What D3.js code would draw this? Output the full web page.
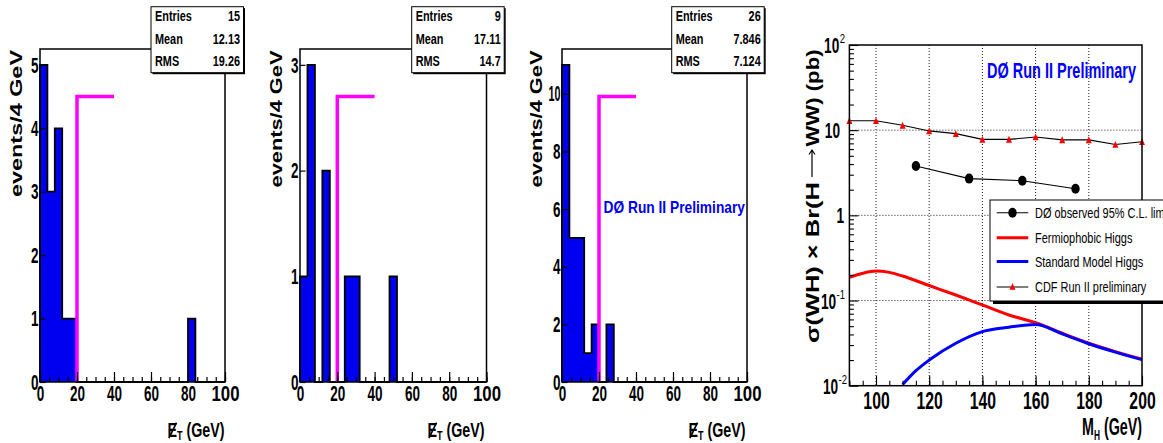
<!DOCTYPE html>
<html>
<head>
<meta charset="utf-8">
<script src="https://cdn.jsdelivr.net/npm/d3@7"></script>
<style>
  body { margin: 0; background: #fff; }
  svg { display: block; }
</style>
</head>
<body>
<svg id="chart" width="1163" height="443"></svg>
<script>
// ---- Missing-ET histograms: 25 bins of 4 GeV between 0 and 100 GeV ----
const binEdges = d3.range(0, 101, 4);
const countsA = [5, 3, 4, 1, 1, 0, 0, 0, 0, 0, 0, 0, 0, 0, 0, 0, 0, 0, 0, 0, 1, 0, 0, 0, 0];
const countsB = [1, 3, 0, 2, 0, 0, 1, 1, 0, 0, 0, 0, 1, 0, 0, 0, 0, 0, 0, 0, 0, 0, 0, 0, 0];
const countsC = [11, 5, 5, 1, 2, 0, 2, 0, 0, 0, 0, 0, 0, 0, 0, 0, 0, 0, 0, 0, 0, 0, 0, 0, 0];
const statNames = ["Entries", "Mean", "RMS"];
const statsA = ["15", "12.13", "19.26"];
const statsB = ["9", "17.11", "14.7"];
const statsC = ["26", "7.846", "7.124"];
const cutLevels = [4.5, 2.7, 9.9];   // height of the cut marker in each histogram
const cutRange = [20, 40];           // GeV
const histTicks = [0, 20, 40, 60, 80, 100];

// ---- Cross-section limit panel ----
const cdfMass = [90, 100, 110, 120, 130, 140, 150, 160, 170, 180, 190, 200];
const cdfLimit = [12.9, 12.9, 11.4, 9.8, 9.1, 7.8, 7.8, 8.3, 7.7, 7.7, 6.8, 7.3];
const d0Mass = [115, 135, 155, 175];
const d0Limit = [3.8, 2.7, 2.55, 2.05];
const fermioMass = [90, 95, 100, 105, 110, 120, 130, 140, 150, 160, 170, 180, 190, 200];
const fermioXs = [0.187, 0.209, 0.222, 0.214, 0.194, 0.150, 0.116, 0.0888, 0.0677, 0.0548, 0.0413, 0.0315, 0.0251, 0.0205];
const smMass = [110, 115, 120, 130, 140, 150, 160, 170, 180, 190, 200];
const smXs = [0.0103, 0.0150, 0.0200, 0.0315, 0.0432, 0.0486, 0.0522, 0.0406, 0.0311, 0.0248, 0.0202];
const massTicks = [100, 120, 140, 160, 180, 200];
const legendLabels = ["D\u00D8 observed 95% C.L. limit", "Fermiophobic Higgs", "Standard Model Higgs", "CDF Run II preliminary"];

const svg = d3.select("#chart");
const FONT = "'Liberation Sans', Arial, Helvetica, sans-serif";
const BLUE = "#0000f0";

// text helper: the typeface is narrow, so each string is compressed horizontally
function label(g, s, x, y, o) {
  const t = g.append("text")
    .attr("x", x).attr("y", y)
    .attr("font-family", o.family || FONT)
    .attr("font-size", o.size)
    .attr("font-weight", o.bold ? "bold" : "normal")
    .attr("text-anchor", o.anchor || "start")
    .attr("fill", o.fill || "#000")
    .text(s);
  if (o.rotate) t.attr("transform", `rotate(${o.rotate},${x},${y})`);
  const w = o.width || t.node().getComputedTextLength() * (o.k || 1);
  t.attr("textLength", w).attr("lengthAdjust", "spacingAndGlyphs");
  return t;
}

function condenseAxis(g, k, widths) {
  g.selectAll("text").each(function () {
    const s = this.textContent;
    const w = (widths && widths[s]) || this.getComputedTextLength() * k;
    d3.select(this).attr("textLength", w).attr("lengthAdjust", "spacingAndGlyphs");
  });
}

// ---------------- histogram panels ----------------
const histPanels = [
  { counts: countsA, stats: statsA, cut: cutLevels[0], left: 40, right: 225, yStep: 1,
    yTitle: { x: 21.5, cy: 123.5, len: 147 }, box: 151, xt: 224.5, prelim: false },
  { counts: countsB, stats: statsB, cut: cutLevels[1], left: 300, right: 486.5, yStep: 1,
    yTitle: { x: 281.5, cy: 119, len: 137 }, box: 411.7, xt: 484.5, prelim: false },
  { counts: countsC, stats: statsC, cut: cutLevels[2], left: 562, right: 747, yStep: 2,
    yTitle: { x: 541.5, cy: 119, len: 137 }, box: 671.7, xt: 745.5, prelim: true }
];
const hTop = 49, hBottom = 382;

histPanels.forEach(p => {
  const g = svg.append("g");
  const x = d3.scaleLinear().domain([0, 100]).range([p.left, p.right]);
  const ymax = d3.max(p.counts) * 1.05;
  const y = d3.scaleLinear().domain([0, ymax]).range([hBottom, hTop]);

  const steps = p.counts.map((c, i) => ({ x: binEdges[i], c }));
  steps.push({ x: 100, c: p.counts[p.counts.length - 1] });

  g.append("path")
    .attr("d", d3.area().curve(d3.curveStepAfter).x(d => x(d.x)).y0(y(0)).y1(d => y(d.c))(steps))
    .attr("fill", BLUE);
  const outline = [{ x: 0, c: 0 }, ...steps, { x: 100, c: 0 }];
  g.append("path")
    .attr("d", d3.line().curve(d3.curveStepAfter).x(d => x(d.x)).y(d => y(d.c))(outline))
    .attr("fill", "none").attr("stroke", "#000").attr("stroke-width", 1.8);

  // cut marker
  g.append("path")
    .attr("d", d3.line()([[x(cutRange[0]), y(0)], [x(cutRange[0]), y(p.cut)], [x(cutRange[1]), y(p.cut)]]))
    .attr("fill", "none").attr("stroke", "#ff00ff").attr("stroke-width", 3.5);

  // frame
  g.append("rect").attr("x", p.left).attr("y", hTop)
    .attr("width", p.right - p.left).attr("height", hBottom - hTop)
    .attr("fill", "none").attr("stroke", "#000").attr("stroke-width", 1.5);

  // x axis: minor ticks every 5 GeV, labelled ticks every 20 GeV
  const xMinor = g.append("g").attr("transform", `translate(0,${hBottom})`)
    .call(d3.axisBottom(x).tickValues(d3.range(0, 101, 5)).tickSize(-5).tickFormat(""));
  xMinor.select(".domain").remove();
  const xMajor = g.append("g").attr("transform", `translate(0,${hBottom})`)
    .call(d3.axisBottom(x).tickValues(histTicks).tickSize(-10).tickPadding(3.5).tickFormat(d3.format("d")));
  xMajor.select(".domain").remove();
  xMajor.attr("font-family", FONT).attr("font-size", 22.5).attr("font-weight", "bold");
  condenseAxis(xMajor, 0.6, { "100": 28 });

  // y axis
  const yAxis = g.append("g").attr("transform", `translate(${p.left},0)`)
    .call(d3.axisLeft(y).tickValues(d3.range(0, ymax, p.yStep)).tickSize(-5.5).tickPadding(1.5).tickFormat(d3.format("d")));
  yAxis.select(".domain").remove();
  yAxis.attr("font-family", FONT).attr("font-size", 22.5).attr("font-weight", "bold");
  condenseAxis(yAxis, 0.6, { "10": 12 });
  g.selectAll(".tick line").attr("stroke", "#000").attr("stroke-width", 1.2);

  // axis titles
  label(g, "events/4 GeV", p.yTitle.x, p.yTitle.cy, { size: 16.5, bold: true, anchor: "middle", rotate: -90, width: p.yTitle.len });
  const xt = g.append("text")
    .attr("x", p.xt).attr("y", 436.5)
    .attr("font-family", FONT).attr("font-size", 20.5).attr("font-weight", "bold")
    .attr("text-anchor", "end");
  xt.append("tspan").text("E");
  xt.append("tspan").text("T").attr("font-size", 13).attr("dy", 3.5);
  xt.append("tspan").text(" (GeV)").attr("dy", -3.5);
  xt.attr("textLength", 57).attr("lengthAdjust", "spacingAndGlyphs");
  const ext = xt.node().getExtentOfChar(0);
  g.append("line")
    .attr("x1", ext.x + ext.width * 0.15).attr("y1", ext.y + ext.height * 0.9)
    .attr("x2", ext.x + ext.width * 0.95).attr("y2", ext.y + ext.height * 0.22)
    .attr("stroke", "#000").attr("stroke-width", 1.6);

  // statistics box
  const bw = 92.5, bt = 6.7, bh = 66;
  g.append("rect").attr("x", p.box + 1.5).attr("y", bt + 1.5).attr("width", bw).attr("height", bh).attr("fill", "#000");
  g.append("rect").attr("x", p.box).attr("y", bt).attr("width", bw).attr("height", bh)
    .attr("fill", "#fff").attr("stroke", "#000").attr("stroke-width", 1);
  const rows = [21, 43.5, 66];
  statNames.forEach((n, i) => {
    label(g, n, p.box + 4, rows[i], { size: 14.5, bold: true, k: 0.75 });
    label(g, p.stats[i], p.box + bw - 3.5, rows[i], { size: 14.5, bold: true, anchor: "end", k: 0.75 });
  });

  if (p.prelim) {
    label(g, "D\u00D8 Run II Preliminary", 603.5, 212.5, { size: 16.5, bold: true, fill: BLUE, width: 141.5 });
  }
});

// ---------------- cross-section panel ----------------
(function () {
  const L = 849.4, R = 1142, T = 45, B = 385.7;
  const g = svg.append("g");
  const x = d3.scaleLinear().domain([90, 200]).range([L, R]);
  const y = d3.scaleLog().domain([0.01, 100]).range([B, T]);

  const clipId = "plotclip";
  g.append("clipPath").attr("id", clipId).append("rect")
    .attr("x", L).attr("y", T).attr("width", R - L).attr("height", B - T);

  // dotted grid
  const grid = g.append("g").attr("stroke", "#000").attr("stroke-width", 0.9).attr("stroke-dasharray", "1,2");
  grid.selectAll(".gx").data([100, 120, 140, 160, 180]).join("line")
    .attr("x1", d => x(d)).attr("x2", d => x(d)).attr("y1", T).attr("y2", B);
  grid.selectAll(".gy").data([0.1, 1, 10]).join("line")
    .attr("y1", d => y(d)).attr("y2", d => y(d)).attr("x1", L).attr("x2", R);

  const plot = g.append("g").attr("clip-path", `url(#${clipId})`);
  const curve = d3.line().curve(d3.curveMonotoneX);

  plot.append("path")
    .attr("d", curve(fermioMass.map((m, i) => [x(m), y(fermioXs[i])])))
    .attr("fill", "none").attr("stroke", "#ff0000").attr("stroke-width", 3);
  plot.append("path")
    .attr("d", curve(smMass.map((m, i) => [x(m), y(smXs[i])])))
    .attr("fill", "none").attr("stroke", "#0000ff").attr("stroke-width", 3);

  // CDF limit: line with red triangles
  plot.append("path")
    .attr("d", d3.line()(cdfMass.map((m, i) => [x(m), y(cdfLimit[i])])))
    .attr("fill", "none").attr("stroke", "#000").attr("stroke-width", 1.1);
  const tri = (cx, cy) => `M${cx - 3},${cy + 3.3}L${cx + 3},${cy + 3.3}L${cx},${cy - 3.5}Z`;
  g.selectAll(".cdf").data(cdfMass).join("path")
    .attr("d", (m, i) => tri(x(m), y(cdfLimit[i])))
    .attr("fill", "#ff0000");

  // D0 observed limit: line with black dots
  plot.append("path")
    .attr("d", d3.line()(d0Mass.map((m, i) => [x(m), y(d0Limit[i])])))
    .attr("fill", "none").attr("stroke", "#000").attr("stroke-width", 1.1);
  g.selectAll(".d0").data(d0Mass).join("ellipse")
    .attr("cx", m => x(m)).attr("cy", (m, i) => y(d0Limit[i]))
    .attr("rx", 4.2).attr("ry", 5).attr("fill", "#000");

  // frame
  g.append("rect").attr("x", L).attr("y", T).attr("width", R - L).attr("height", B - T)
    .attr("fill", "none").attr("stroke", "#000").attr("stroke-width", 1.5);

  // x axis
  const xMinor = g.append("g").attr("transform", `translate(0,${B})`)
    .call(d3.axisBottom(x).tickValues(d3.range(90, 201, 5)).tickSize(-5).tickFormat(""));
  xMinor.select(".domain").remove();
  const xMajor = g.append("g").attr("transform", `translate(0,${B})`)
    .call(d3.axisBottom(x).tickValues(massTicks).tickSize(-10).tickPadding(7).tickFormat(d3.format("d")));
  xMajor.select(".domain").remove();
  xMajor.attr("font-family", FONT).attr("font-size", 23.5).attr("font-weight", "bold");
  condenseAxis(xMajor, 0.67);

  // y axis (log): minor ticks 2..9 per decade, labelled decades
  const minorVals = [];
  [0.01, 0.1, 1, 10].forEach(d => { for (let k = 2; k <= 9; k++) minorVals.push(d * k); });
  const yMinor = g.append("g").attr("transform", `translate(${L},0)`)
    .call(d3.axisLeft(y).tickValues(minorVals).tickSize(-4.5).tickFormat(""));
  yMinor.select(".domain").remove();
  const yMajor = g.append("g").attr("transform", `translate(${L},0)`)
    .call(d3.axisLeft(y).tickValues([0.01, 0.1, 1, 10, 100]).tickSize(-9).tickFormat(""));
  yMajor.select(".domain").remove();
  g.selectAll(".tick line").attr("stroke", "#000").attr("stroke-width", 1.1);

  // decade labels
  const decade = [
    { v: 0.01, base: "10", exp: "-2", right: 847 },
    { v: 0.1, base: "10", exp: "-1", right: 845 },
    { v: 1, base: "1", exp: null, right: 844 },
    { v: 10, base: "10", exp: null, right: 840 },
    { v: 100, base: "10", exp: "2", right: 845 }
  ];
  decade.forEach(d => {
    const yy = y(d.v) + 8;
    let r = d.right;
    if (d.exp) {
      const e = label(g, d.exp, r, yy - 10, { size: 13.5, bold: false, anchor: "end", k: 0.7 });
      r -= e.node().getComputedTextLength();
      r -= 0.5;
    }
    label(g, d.base, r, yy, { size: 22, bold: true, anchor: "end", k: 0.62 });
  });

  // y title, set in three pieces so the arrow keeps its proportions
  const tx = 818.5;
  label(g, "\u03C3(WH) \u00D7 Br(H", tx, 343, { size: 18, bold: true, rotate: -90, width: 161 });
  g.append("path")
    .attr("d", `M${tx - 6.5},177 L${tx - 6.5},150 M${tx - 9.5},154.5 L${tx - 6.5},150 L${tx - 3.5},154.5`)
    .attr("fill", "none").attr("stroke", "#000").attr("stroke-width", 1.2);
  label(g, "WW) (pb)", tx, 146.5, { size: 18, bold: true, rotate: -90, width: 97 });

  const xt = g.append("text").attr("x", 1142).attr("y", 435)
    .attr("font-family", FONT).attr("font-size", 24).attr("font-weight", "bold").attr("text-anchor", "end");
  xt.append("tspan").text("M");
  xt.append("tspan").text("H").attr("font-size", 14).attr("dy", 5);
  xt.append("tspan").text(" (GeV)").attr("dy", -5);
  xt.attr("textLength", 60).attr("lengthAdjust", "spacingAndGlyphs");

  label(g, "D\u00D8 Run II Preliminary", 987, 78.3, { size: 22, bold: true, fill: "#0000ff", width: 149 });

  // legend
  const lx = 990, ly = 200, lw = 200, lh = 101;
  g.append("rect").attr("x", lx + 3).attr("y", ly + 3).attr("width", lw).attr("height", lh).attr("fill", "#000");
  g.append("rect").attr("x", lx).attr("y", ly).attr("width", lw).attr("height", lh)
    .attr("fill", "#fff").attr("stroke", "#000").attr("stroke-width", 1);
  const rowY = [212.7, 237.7, 261.5, 287];
  const sx0 = 996.7, sx1 = 1028.3, sxm = (sx0 + sx1) / 2;
  const styles = [
    { stroke: "#000", w: 1.1 }, { stroke: "#ff0000", w: 3 }, { stroke: "#0000ff", w: 3 }, { stroke: "#000", w: 1.1 }
  ];
  legendLabels.forEach((s, i) => {
    g.append("line").attr("x1", sx0).attr("x2", sx1).attr("y1", rowY[i]).attr("y2", rowY[i])
      .attr("stroke", styles[i].stroke).attr("stroke-width", styles[i].w);
    label(g, s, 1035, rowY[i] + 5, { size: 15, k: 0.73 });
  });
  g.append("ellipse").attr("cx", sxm).attr("cy", rowY[0]).attr("rx", 4.2).attr("ry", 5).attr("fill", "#000");
  g.append("path").attr("d", tri(sxm, rowY[3] - 0.5)).attr("fill", "#ff0000");
})();
</script>
</body>
</html>
